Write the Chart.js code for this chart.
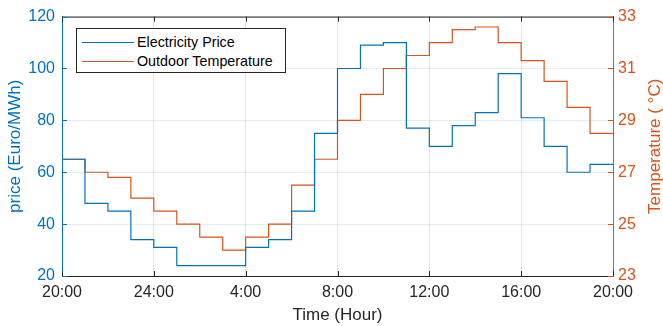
<!DOCTYPE html>
<html>
<head>
<meta charset="utf-8">
<script src="https://cdn.jsdelivr.net/npm/chart.js@4/dist/chart.umd.min.js"></script>
<style>
  html, body { margin: 0; padding: 0; background: #fff; }
  #wrap { position: relative; width: 663px; height: 326px; }
  #legend {
    position: absolute; left: 76px; top: 28px; width: 208px; height: 43px;
    border: 1px solid #262626; background: #fff;
    font-family: "Liberation Sans", Arial, sans-serif; font-size: 14.3px; color: #000;
  }
  .leg-row { position: absolute; left: 0; height: 18px; line-height: 18px; white-space: nowrap; }
  .leg-line { position: absolute; left: 5px; top: 9px; width: 52px; border-top: 1.2px solid; }
  .leg-text { position: absolute; left: 60px; top: 0; }
</style>
</head>
<body>
<div id="wrap">
  <canvas id="chart" width="663" height="326"></canvas>
  <div id="legend">
    <div class="leg-row" style="top:4px"><span class="leg-line" style="border-color:#0072BD"></span><span class="leg-text">Electricity Price</span></div>
    <div class="leg-row" style="top:23px"><span class="leg-line" style="border-color:#D95319"></span><span class="leg-text">Outdoor Temperature</span></div>
  </div>
</div>
<script>
// hour index from 20:00 (stairs: last value repeated at the end)
const hours = [0, 1, 2, 3, 4, 5, 6, 7, 8, 9, 10, 11, 12, 13, 14, 15, 16, 17, 18, 19, 20, 21, 22, 23, 24];
const price = [65, 48, 45, 34, 31, 24, 24, 24, 31, 34, 45, 75, 100, 109, 110, 77, 70, 78, 83, 98, 81, 70, 60, 63, 63];
const temperature = [27.5, 27, 26.8, 26, 25.5, 25, 24.5, 24, 24.5, 25, 26.5, 27.5, 29, 30, 31, 31.5, 32, 32.5, 32.6, 32, 31.3, 30.5, 29.5, 28.5, 28.5];

const xTickLabels = ['20:00', '24:00', '4:00', '8:00', '12:00', '16:00', '20:00'];

const BLUE = '#0072BD';
const ORANGE = '#D95319';
const DARK = '#262626';
const FONT = '"Liberation Sans", Arial, sans-serif';

// inward tick marks + top box line + right title (reads bottom-to-top like MATLAB)
const axesDecor = {
  id: 'axesDecor',
  afterDraw(chart) {
    const ctx = chart.ctx;
    const a = chart.chartArea;
    const sx = chart.scales.x, sy = chart.scales.y, sy1 = chart.scales.y1;
    ctx.save();
    ctx.lineWidth = 1;

    ctx.strokeStyle = DARK;
    ctx.beginPath();
    ctx.moveTo(a.left, a.top + 0.5);
    ctx.lineTo(a.right, a.top + 0.5);
    sx.ticks.forEach(t => {
      const px = Math.round(sx.getPixelForValue(t.value)) + 0.5;
      ctx.moveTo(px, a.bottom); ctx.lineTo(px, a.bottom - 5);
      ctx.moveTo(px, a.top); ctx.lineTo(px, a.top + 5);
    });
    ctx.stroke();

    ctx.strokeStyle = BLUE;
    ctx.beginPath();
    sy.ticks.forEach(t => {
      const py = Math.round(sy.getPixelForValue(t.value)) + 0.5;
      ctx.moveTo(a.left, py); ctx.lineTo(a.left + 5, py);
    });
    ctx.stroke();

    ctx.strokeStyle = ORANGE;
    ctx.beginPath();
    sy1.ticks.forEach(t => {
      const py = Math.round(sy1.getPixelForValue(t.value)) + 0.5;
      ctx.moveTo(a.right, py); ctx.lineTo(a.right - 5, py);
    });
    ctx.stroke();

    // right axis title
    ctx.translate(655, (a.top + a.bottom) / 2);
    ctx.rotate(-Math.PI / 2);
    ctx.fillStyle = ORANGE;
    ctx.font = '17px ' + FONT;
    ctx.textAlign = 'center';
    ctx.textBaseline = 'middle';
    ctx.fillText('Temperature ( °C)', 0, 0);
    ctx.restore();
  }
};

new Chart(document.getElementById('chart'), {
  type: 'line',
  data: {
    datasets: [
      {
        label: 'Electricity Price',
        data: hours.map((h, i) => ({ x: h, y: price[i] })),
        yAxisID: 'y',
        borderColor: BLUE,
        borderWidth: 1.2,
        pointRadius: 0,
        stepped: 'before',
        fill: false
      },
      {
        label: 'Outdoor Temperature',
        data: hours.map((h, i) => ({ x: h, y: temperature[i] })),
        yAxisID: 'y1',
        borderColor: ORANGE,
        borderWidth: 1.2,
        pointRadius: 0,
        stepped: 'before',
        fill: false
      }
    ]
  },
  options: {
    responsive: false,
    animation: false,
    layout: { padding: { top: 14, left: 0, right: 0, bottom: 0 } },
    plugins: {
      legend: { display: false },
      tooltip: { enabled: false }
    },
    scales: {
      x: {
        type: 'linear',
        min: 0,
        max: 24,
        afterFit: s => { s.height = 50; },
        afterBuildTicks: s => { s.ticks = [0, 4, 8, 12, 16, 20, 24].map(v => ({ value: v })); },
        ticks: {
          color: DARK,
          font: { family: FONT, size: 16 },
          padding: 7,
          maxRotation: 0,
          autoSkip: false,
          callback: (v) => xTickLabels[v / 4]
        },
        grid: { color: 'rgba(38,38,38,0.13)', drawTicks: false },
        border: { color: DARK },
        title: {
          display: true,
          text: 'Time (Hour)',
          color: DARK,
          font: { family: FONT, size: 17 },
          padding: { top: 0, bottom: 0 }
        }
      },
      y: {
        position: 'left',
        min: 20,
        max: 120,
        afterFit: s => { s.width = 62; },
        ticks: {
          stepSize: 20,
          color: BLUE,
          font: { family: FONT, size: 16 },
          padding: 7
        },
        grid: { color: 'rgba(0,114,189,0.13)', drawTicks: false },
        border: { color: BLUE },
        title: {
          display: true,
          text: 'price (Euro/MWh)',
          color: BLUE,
          font: { family: FONT, size: 17 },
          padding: { top: 5, bottom: 0 }
        }
      },
      y1: {
        position: 'right',
        min: 23,
        max: 33,
        afterFit: s => { s.width = 50; },
        ticks: {
          stepSize: 2,
          color: ORANGE,
          font: { family: FONT, size: 16 },
          padding: 5
        },
        grid: { display: false, drawTicks: false },
        border: { color: ORANGE }
      }
    }
  },
  plugins: [axesDecor]
});
</script>
</body>
</html>
